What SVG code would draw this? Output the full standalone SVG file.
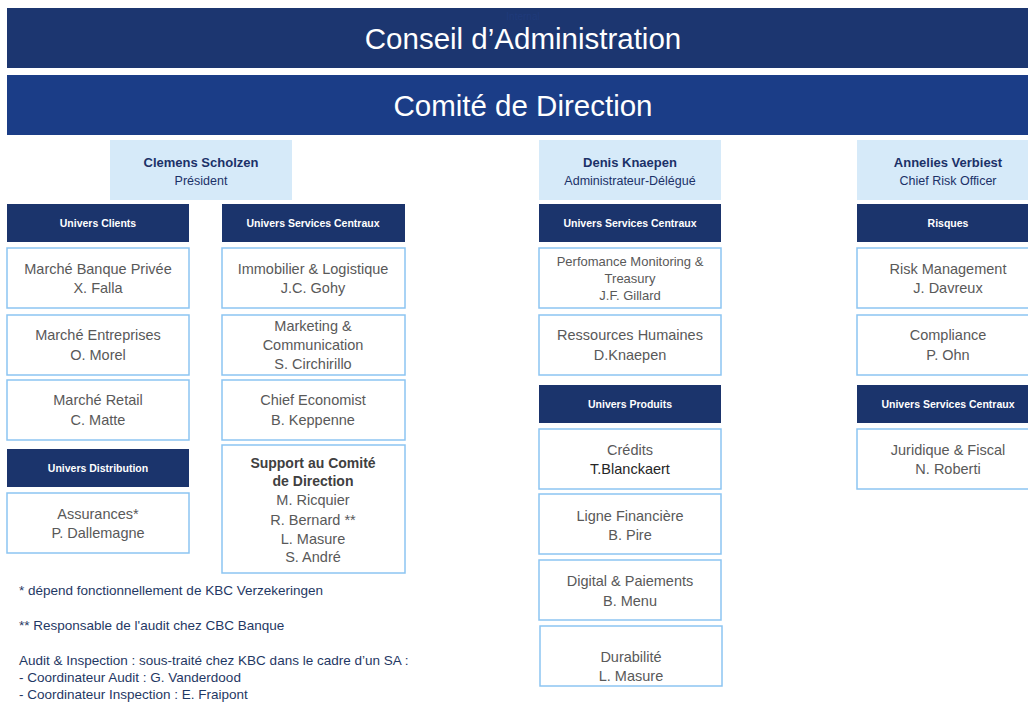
<svg xmlns="http://www.w3.org/2000/svg" width="1028" height="702" viewBox="0 0 1028 702">
<style>
text{font-family:"Liberation Sans",Arial,sans-serif;text-anchor:middle}
.bar1{fill:#1c3670}
.bar2{fill:#1b3d87}
.big{fill:#fff;font-size:29.5px}
.per{fill:#d6eaf9}
.pn{fill:#1b3168;font-size:13px;font-weight:bold}
.pr{fill:#1b3168;font-size:12.5px}
.hd{fill:#1b346c}
.ht{fill:#fff;font-size:10.5px;font-weight:bold}
.bx{fill:#fff;stroke:#8cc5f2;stroke-width:1.5}
.t{fill:#595959;font-size:14.5px}
.ts{fill:#595959;font-size:13px}
.tb{fill:#404040;font-size:14px;font-weight:bold}
.td{fill:#262626;font-size:14.5px}
.fn{fill:#1f3864;font-size:13.5px;text-anchor:start}
</style>
<g id="conseil"><rect class="bar1" x="7" y="8" width="1025" height="60"/>
<text x="523" y="20" style="fill:#1f3a7a;font-size:10px">Internal</text>
<text class="big" x="523" y="49">Conseil d’Administration</text></g>
<g id="comite"><rect class="bar2" x="7" y="75" width="1025" height="60"/>
<text class="big" x="523" y="116">Comité de Direction</text></g>

<g id="scholzen"><rect class="per" x="110" y="140" width="182" height="60"/><text class="pn" x="201" y="167">Clemens Scholzen</text><text class="pr" x="201" y="185">Président</text></g>
<g id="knaepen"><rect class="per" x="539" y="140" width="182" height="60"/><text class="pn" x="630" y="167">Denis Knaepen</text><text class="pr" x="630" y="185">Administrateur-Délégué</text></g>
<g id="verbiest"><rect class="per" x="857" y="140" width="180" height="60"/><text class="pn" x="948" y="167">Annelies Verbiest</text><text class="pr" x="948" y="185">Chief Risk Officer</text></g>

<g id="h-clients"><rect class="hd" x="7" y="204" width="182" height="38"/><text class="ht" x="98" y="227">Univers Clients</text></g>
<g id="h-sc1"><rect class="hd" x="222" y="204" width="183" height="38"/><text class="ht" x="313" y="227">Univers Services Centraux</text></g>
<g id="h-sc2"><rect class="hd" x="539" y="204" width="182" height="38"/><text class="ht" x="630" y="227">Univers Services Centraux</text></g>
<g id="h-risques"><rect class="hd" x="857" y="204" width="180" height="38"/><text class="ht" x="948" y="227">Risques</text></g>
<g id="h-distribution"><rect class="hd" x="7" y="449" width="182" height="38"/><text class="ht" x="98" y="472">Univers Distribution</text></g>
<g id="h-produits"><rect class="hd" x="539" y="385" width="182" height="38"/><text class="ht" x="630" y="408">Univers Produits</text></g>
<g id="h-sc3"><rect class="hd" x="857" y="385" width="180" height="38"/><text class="ht" x="948" y="408">Univers Services Centraux</text></g>

<g id="banque-privee"><rect class="bx" x="7" y="248" width="182" height="60"/><text class="t" x="98" y="274">Marché Banque Privée</text><text class="t" x="98" y="293">X. Falla</text></g>
<g id="entreprises"><rect class="bx" x="7" y="315" width="182" height="60"/><text class="t" x="98" y="340">Marché Entreprises</text><text class="t" x="98" y="360">O. Morel</text></g>
<g id="retail"><rect class="bx" x="7" y="380" width="182" height="60"/><text class="t" x="98" y="405">Marché Retail</text><text class="t" x="98" y="425">C. Matte</text></g>
<g id="assurances"><rect class="bx" x="7" y="493" width="182" height="60"/><text class="t" x="98" y="519">Assurances*</text><text class="t" x="98" y="538">P. Dallemagne</text></g>

<g id="immobilier"><rect class="bx" x="222" y="248" width="183" height="60"/><text class="t" x="313" y="274">Immobilier &amp; Logistique</text><text class="t" x="313" y="293">J.C. Gohy</text></g>
<g id="marketing"><rect class="bx" x="222" y="315" width="183" height="60"/><text class="t" x="313" y="331">Marketing &amp;</text><text class="t" x="313" y="350">Communication</text><text class="t" x="313" y="369">S. Circhirillo</text></g>
<g id="economist"><rect class="bx" x="222" y="380" width="183" height="60"/><text class="t" x="313" y="405">Chief Economist</text><text class="t" x="313" y="425">B. Keppenne</text></g>
<g id="support"><rect class="bx" x="222" y="445" width="183" height="128"/><text class="tb" x="313" y="468">Support au Comité</text><text class="tb" x="313" y="486">de Direction</text><text class="t" x="313" y="505">M. Ricquier</text><text class="t" x="313" y="525">R. Bernard **</text><text class="t" x="313" y="544">L. Masure</text><text class="t" x="313" y="562">S. André</text></g>

<g id="performance"><rect class="bx" x="539" y="248" width="182" height="60"/><text class="ts" x="630" y="266">Perfomance Monitoring &amp;</text><text class="ts" x="630" y="283">Treasury</text><text class="ts" x="630" y="300">J.F. Gillard</text></g>
<g id="rh"><rect class="bx" x="539" y="315" width="182" height="60"/><text class="t" x="630" y="340">Ressources Humaines</text><text class="t" x="630" y="360">D.Knaepen</text></g>
<g id="credits"><rect class="bx" x="539" y="429" width="182" height="60"/><text class="t" x="630" y="455">Crédits</text><text class="td" x="630" y="474">T.Blanckaert</text></g>
<g id="ligne"><rect class="bx" x="539" y="494" width="182" height="60"/><text class="t" x="630" y="521">Ligne Financière</text><text class="t" x="630" y="540">B. Pire</text></g>
<g id="digital"><rect class="bx" x="539" y="560" width="182" height="60"/><text class="t" x="630" y="586">Digital &amp; Paiements</text><text class="t" x="630" y="606">B. Menu</text></g>
<g id="durabilite"><rect class="bx" x="540" y="626" width="182" height="60"/><text class="t" x="631" y="662">Durabilité</text><text class="t" x="631" y="681">L. Masure</text></g>

<g id="risk-management"><rect class="bx" x="857" y="248" width="180" height="60"/><text class="t" x="948" y="274">Risk Management</text><text class="t" x="948" y="293">J. Davreux</text></g>
<g id="compliance"><rect class="bx" x="857" y="315" width="180" height="60"/><text class="t" x="948" y="340">Compliance</text><text class="t" x="948" y="360">P. Ohn</text></g>
<g id="juridique"><rect class="bx" x="857" y="429" width="180" height="60"/><text class="t" x="948" y="455">Juridique &amp; Fiscal</text><text class="t" x="948" y="474">N. Roberti</text></g>

<g id="connectors"></g>

<g id="notes">
<text class="fn" x="19" y="595">* dépend fonctionnellement de KBC Verzekeringen</text>
<text class="fn" x="19" y="630">** Responsable de l'audit chez CBC Banque</text>
<text class="fn" x="19" y="665">Audit &amp; Inspection : sous-traité chez KBC dans le cadre d’un SA :</text>
<text class="fn" x="19" y="682">- Coordinateur Audit : G. Vanderdood</text>
<text class="fn" x="19" y="699">- Coordinateur Inspection : E. Fraipont</text>
</g>
</svg>
